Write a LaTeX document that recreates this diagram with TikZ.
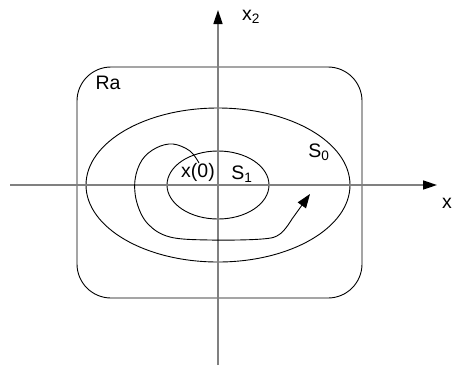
\documentclass[tikz,border=0pt]{standalone}
\usepackage{fontspec}
\setmainfont{Liberation Sans}
\usetikzlibrary{arrows.meta}

\begin{document}
\begin{tikzpicture}[x=1pt, y=-1pt]

  \tikzstyle{axisline} = [
    draw=black!50, line width=1.6pt,
    -{Triangle[length=14pt, width=9pt, color=black]}
  ]
  \tikzstyle{setline} = [draw=black, line width=0.9pt]
  \tikzstyle{lbl} = [font=\fontsize{19.5}{22}\selectfont, inner sep=0pt]

  \useasboundingbox (0,0) rectangle (454,365);

  % region and sets
  \draw[setline, rounded corners=34pt] (77,67) rectangle (362,298);
  \draw[setline] (218,185) ellipse [x radius=132, y radius=77];
  \draw[setline] (218,185) ellipse [x radius=51, y radius=34];

  % axes
  \coordinate (xl) at (10,185);
  \coordinate (xr) at (437,185);
  \coordinate (yb) at (218,365);
  \coordinate (yt) at (218,10);
  \draw[axisline] (xl) -- (xr);
  \draw[axisline] (yb) -- (yt);

  % labels
  \node[lbl] (ra) at (108,83) {Ra};
  \node[lbl] (x0) at (198,172) {x(0)};
  \node[lbl] (s1) at (242,174) {S\textsubscript{1}};
  \node[lbl] (s0) at (319,152) {S\textsubscript{0}};
  \node[lbl] (xlab) at (447,203) {x};
  \node[lbl] (x2lab) at (251,17) {x\textsubscript{2}};

  % trajectory
  \draw[setline, -{Triangle[length=14pt, width=10pt]}]
    plot[smooth, tension=0.6] coordinates {
      (199,163) (190,151) (173,144) (156,148) (142,160) (135,180)
      (137,203) (148,224) (170,237) (210,240) (262,239) (280,234)
      (292,219)}
    -- (310,194);

\end{tikzpicture}
\end{document}
